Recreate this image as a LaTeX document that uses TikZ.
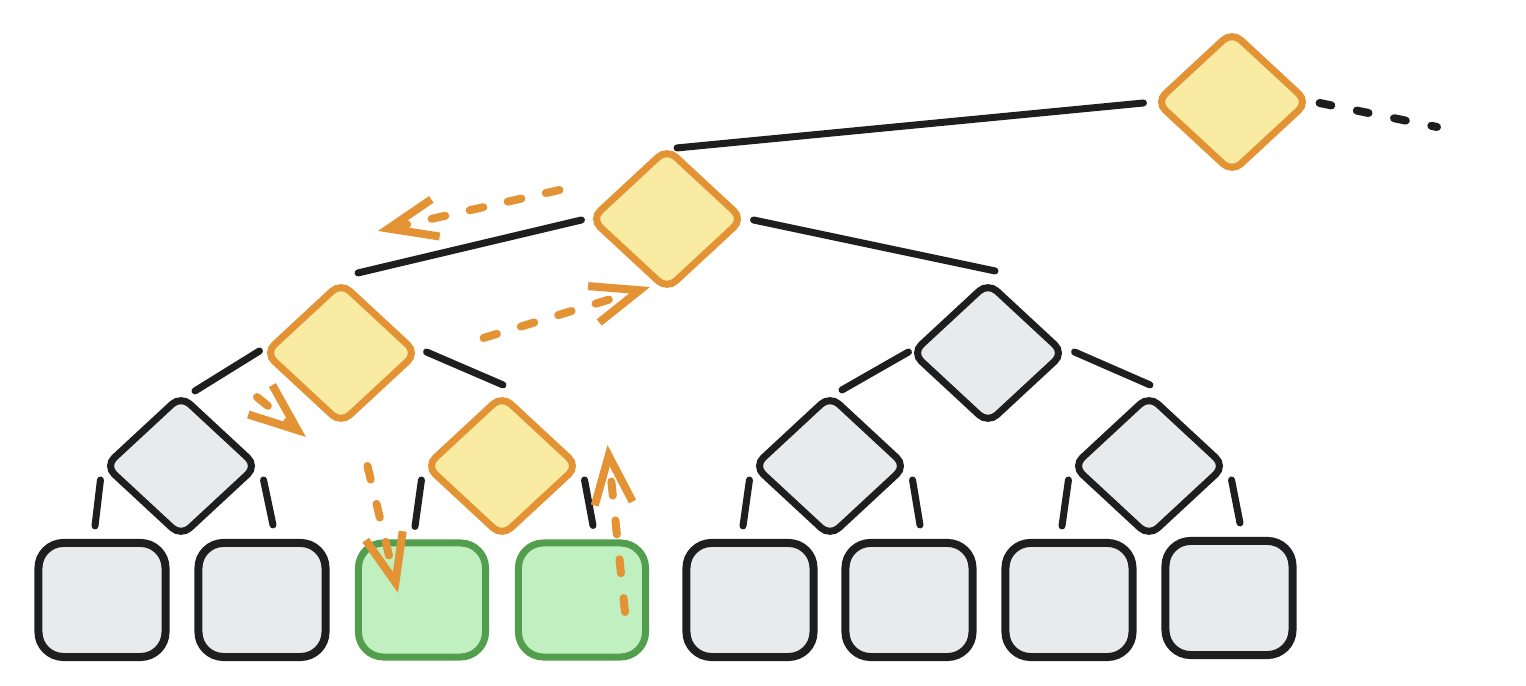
\documentclass[tikz,border=0pt]{standalone}
\usetikzlibrary{arrows.meta,positioning,shapes.geometric}
\definecolor{ink}{HTML}{1E1E1E}
\definecolor{amber}{HTML}{E39334}
\definecolor{butter}{HTML}{FAEBA3}
\definecolor{mist}{HTML}{E7EBEE}
\definecolor{moss}{HTML}{529E4E}
\definecolor{mint}{HTML}{C0F0C0}
\tikzset{
  dia/.style={diamond, draw=ink, fill=mist, line width=0.07cm, rounded corners=0.12cm,
    minimum width=1.54cm, minimum height=1.43cm, inner sep=0pt},
  hot/.style={dia, draw=amber, fill=butter},
  leaf/.style={rectangle, draw=ink, fill=mist, line width=0.08cm, rounded corners=0.25cm,
    minimum width=1.27cm, minimum height=1.14cm, inner sep=0pt},
  goal/.style={leaf, draw=moss, fill=mint, line width=0.07cm},
  edge/.style={draw=ink, line width=0.07cm, line cap=round},
  more/.style={edge, line width=0.08cm, dash pattern=on 0.12cm off 0.26cm},
  trail/.style={draw=amber, line width=0.08cm, line cap=round, dash pattern=on 0.14cm off 0.25cm,
    -{Straight Barb[length=4.8mm, width=3.8mm, line width=0.08cm]}}
}
\begin{document}
\begin{tikzpicture}[x=0.01cm, y=-0.01cm]
\useasboundingbox (0,0) rectangle (1526,686);
% inner nodes
\node[hot] (d1) at (1232,102) {};
\node[hot] (d2) at (667,219) {};
\node[hot] (d3) at (341,353) {};
\node[dia] (dr) at (988,353) {};
\node[dia] (la) at (181,466) {};
\node[hot] (lb) at (502,466) {};
\node[dia] (lc) at (830,466) {};
\node[dia] (ld) at (1149,466) {};
% leaves
\node[leaf] (f1) at (102,600) {};
\node[leaf] (f2) at (262,600) {};
\node[goal] (f3) at (422,600) {};
\node[goal] (f4) at (582,600) {};
\node[leaf] (f5) at (750,600) {};
\node[leaf] (f6) at (909,600) {};
\node[leaf] (f7) at (1069,600) {};
\node[leaf] (f8) at (1229,598) {};
\coordinate (tail) at (1437,127);

\draw[edge] ([shift={(-8,1)}]d1.west) -- ([shift={(10,4)}]d2.north);
\draw[more] ([shift={(7,1)}]d1.east) -- (tail);
\draw[edge] ([shift={(-5,1)}]d2.west) -- ([shift={(17,-5)}]d3.north);
\draw[edge] ([shift={(6,1)}]d2.east) -- ([shift={(7,-7)}]dr.north);
\draw[edge] ([shift={(-1,-2)}]d3.west) -- ([shift={(14,0)}]la.north);
\draw[edge] ([shift={(5,-1)}]d3.east) -- ([shift={(1,-6)}]lb.north);
\draw[edge] ([shift={(1,-1)}]dr.west) -- ([shift={(12,-1)}]lc.north);
\draw[edge] ([shift={(6,-1)}]dr.east) -- ([shift={(1,-6)}]ld.north);
\foreach \p/\l/\r in {la/f1/f2, lb/f3/f4, lc/f5/f6, ld/f7/f8} {
  \draw[edge] ([shift={(0,14)}]\p.west) -- ([shift={(-7,-13)}]\l.north);
  \draw[edge] ([shift={(2,14)}]\p.east) -- ([shift={(11,-14)}]\r.north);
}

% search path
\draw[trail] ([shift={(-27,-29)}]d2.west) -- ([shift={(37,-47)}]d3.north);
\draw[trail] ([shift={(62,-15)}]d3.east) -- ([shift={(-17,-7)}]d2.south);
\draw[trail] ([shift={(-84,-31)}]d3.south) -- ([shift={(-35,9)}]d3.south);
\draw[trail] ([shift={(-54,0)}]lb.west) -- ([shift={(-24,-7)}]f3.center);
\draw[trail] ([shift={(43,12)}]f4.center) -- ([shift={(25,-21)}]lb.east);
\end{tikzpicture}
\end{document}
